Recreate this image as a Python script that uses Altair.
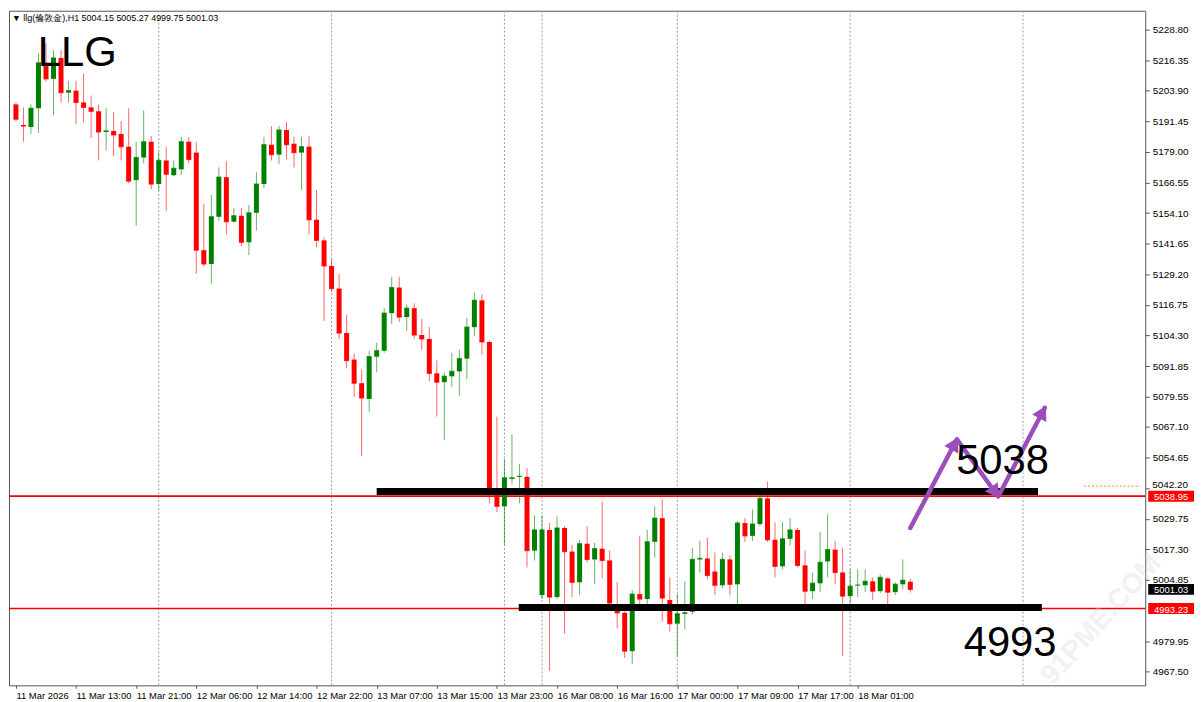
import math
import altair as alt
import pandas as pd

# ---------------- data ----------------
opens = [5198.3, 5189.9, 5189.1, 5196.7, 5215.2, 5208.7, 5217.2, 5203.1, 5203.9, 5199.1,
         5197.1, 5195.5, 5187.1, 5187.5, 5186.3, 5181.1, 5167.5, 5176.7, 5183.1, 5165.9,
         5175.5, 5169.5, 5171.9, 5183.1, 5178.7, 5139.0, 5133.4, 5152.6, 5168.7, 5150.6,
         5153.0, 5142.2, 5154.2, 5165.9, 5181.9, 5177.9, 5187.9, 5182.3, 5178.7, 5181.1,
         5151.4, 5143.0, 5132.6, 5123.4, 5105.3, 5094.5, 5084.9, 5078.5, 5095.7, 5098.1,
         5113.4, 5123.8, 5111.8, 5115.4, 5104.5, 5102.9, 5088.9, 5085.3, 5087.7, 5089.7,
         5094.9, 5107.7, 5118.6, 5101.7, 5040.8, 5034.8, 5046.0, 5046.8, 5046.8, 5016.8,
         4998.7, 5025.2, 4997.9, 5026.0, 5016.4, 5003.9, 5019.6, 5013.2, 5017.6, 5012.8,
         4995.1, 4991.5, 4975.9, 4999.1, 4997.1, 5020.4, 5030.0, 4996.7, 4987.1, 4991.1,
         4991.9, 5013.2, 5013.6, 5008.3, 5002.7, 5013.2, 5003.1, 5028.0, 5022.8, 5027.6,
         5038.0, 5021.2, 5010.4, 5021.6, 5025.2, 5010.8, 5000.3, 5003.5, 5012.4, 5017.2,
         5007.9, 4998.3, 5002.7, 5002.7, 5004.3, 5000.3, 5005.5, 4999.9, 5003.1, 5004.15]

highs = [5199.1, 5197.1, 5198.3, 5219.2, 5223.2, 5220.4, 5220.4, 5207.9, 5207.9, 5210.8,
         5201.9, 5198.3, 5196.7, 5195.1, 5191.5, 5196.7, 5183.1, 5195.9, 5185.5, 5179.1,
         5181.1, 5175.5, 5185.1, 5185.1, 5183.1, 5157.8, 5161.5, 5172.7, 5175.1, 5156.2,
         5156.2, 5157.4, 5170.7, 5185.1, 5189.5, 5189.5, 5191.1, 5185.1, 5185.1, 5185.5,
         5163.5, 5144.2, 5135.4, 5129.4, 5112.6, 5096.9, 5090.5, 5098.1, 5101.3, 5115.4,
         5128.2, 5128.2, 5117.0, 5117.4, 5111.0, 5107.7, 5094.1, 5089.3, 5097.3, 5098.5,
         5111.4, 5121.8, 5121.0, 5102.3, 5071.3, 5054.0, 5064.1, 5052.0, 5050.4, 5031.2,
         5031.2, 5028.0, 5030.8, 5026.8, 5019.2, 5021.2, 5026.8, 5020.0, 5036.8, 5016.8,
         5003.9, 4993.9, 5000.7, 5022.8, 5025.2, 5034.8, 5037.6, 5005.9, 4999.1, 5004.3,
         5018.0, 5020.8, 5022.0, 5016.0, 5016.0, 5014.8, 5028.8, 5030.0, 5033.6, 5040.0,
         5044.8, 5028.4, 5028.4, 5030.0, 5026.0, 5016.8, 5007.9, 5024.4, 5031.6, 5020.8,
         5018.0, 5009.2, 5009.2, 5009.2, 5005.9, 5007.1, 5005.9, 5003.9, 5013.2, 5005.27]

lows = [5191.5, 5183.1, 5186.3, 5186.7, 5207.5, 5193.9, 5199.1, 5199.1, 5190.3, 5191.1,
        5184.7, 5175.5, 5179.5, 5177.1, 5175.5, 5166.3, 5149.0, 5174.3, 5163.9, 5163.1,
        5155.0, 5169.1, 5169.5, 5174.3, 5129.4, 5132.2, 5125.4, 5151.0, 5145.4, 5150.2,
        5140.6, 5137.0, 5147.0, 5164.3, 5175.5, 5173.9, 5175.9, 5172.7, 5163.5, 5145.4,
        5140.2, 5110.2, 5122.2, 5102.9, 5090.9, 5079.3, 5055.2, 5073.3, 5089.3, 5097.3,
        5109.0, 5109.8, 5106.1, 5102.9, 5098.5, 5085.7, 5071.3, 5061.7, 5083.3, 5079.7,
        5086.5, 5104.1, 5096.5, 5036.0, 5032.4, 5019.2, 5044.0, 5036.0, 5010.0, 5012.8,
        4997.1, 4967.9, 4997.1, 4983.1, 4997.9, 4998.7, 5012.0, 5003.1, 5005.5, 4994.7,
        4985.1, 4973.1, 4970.7, 4995.1, 4994.7, 5014.0, 4987.9, 4983.9, 4973.9, 4984.7,
        4990.7, 5007.9, 5005.1, 4998.7, 5001.5, 4998.7, 4995.1, 5020.4, 5020.8, 5026.8,
        5020.4, 5005.9, 5009.2, 5018.8, 5010.0, 4995.1, 4997.1, 4999.9, 5005.9, 5003.1,
        4973.9, 4995.1, 4997.9, 4999.9, 4996.7, 4999.5, 4994.7, 4998.7, 5001.1, 4999.75]

closes = [5192.3, 5189.5, 5196.7, 5215.2, 5208.7, 5217.2, 5203.1, 5203.9, 5199.1, 5197.1,
          5195.5, 5187.1, 5187.5, 5185.9, 5181.1, 5167.1, 5176.7, 5183.1, 5165.9, 5175.5,
          5169.9, 5172.3, 5183.1, 5175.9, 5139.0, 5133.4, 5152.6, 5168.7, 5150.6, 5153.0,
          5142.2, 5154.2, 5165.9, 5181.9, 5177.9, 5187.9, 5181.9, 5178.7, 5181.1, 5151.4,
          5143.0, 5132.6, 5123.4, 5105.3, 5094.1, 5084.9, 5078.9, 5095.7, 5098.1, 5113.4,
          5123.8, 5111.8, 5115.4, 5104.5, 5102.9, 5088.9, 5085.3, 5087.7, 5089.7, 5094.9,
          5107.7, 5118.6, 5101.7, 5040.8, 5034.8, 5046.4, 5046.4, 5047.0, 5016.8, 5025.2,
          5025.2, 4997.9, 5026.0, 5016.4, 5003.9, 5019.6, 5013.2, 5017.6, 5012.8, 4995.5,
          4991.5, 4975.9, 4999.1, 4997.1, 5020.4, 5030.0, 4997.5, 4987.1, 4991.1, 4991.5,
          5013.2, 5013.6, 5006.7, 5002.7, 5013.2, 5003.1, 5028.0, 5022.8, 5027.6, 5038.0,
          5021.2, 5010.4, 5021.6, 5025.2, 5010.8, 5000.3, 5003.5, 5012.0, 5017.2, 5007.9,
          4998.3, 5002.3, 5002.8, 5004.3, 5000.3, 5005.9, 4999.9, 5003.1, 5004.7, 5001.03]

x_labels = ["11 Mar 2026", "11 Mar 13:00", "11 Mar 21:00", "12 Mar 06:00", "12 Mar 14:00",
            "12 Mar 22:00", "13 Mar 07:00", "13 Mar 15:00", "13 Mar 23:00", "16 Mar 08:00",
            "16 Mar 16:00", "17 Mar 00:00", "17 Mar 09:00", "17 Mar 17:00", "18 Mar 01:00"]
y_ticks = [5228.80, 5216.35, 5203.90, 5191.45, 5179.00, 5166.55, 5154.10, 5141.65, 5129.20,
           5116.75, 5104.30, 5091.85, 5079.55, 5067.10, 5054.65, 5042.20, 5029.75, 5017.30,
           5004.85, 4979.95, 4967.50]
# tick label that sits right above a price box (drawn separately, nudged up)
crowded_tick = [5042.20]

level_prices = [5038.95, 4993.23]
level_labels = ["5038.95", "4993.23"]
last_price = [5001.03]
last_label = ["5001.03"]
ask_price = [5043.0]
ask_from = [143.1]

zone_start = [49.0, 67.9]
zone_end = [137.0, 137.5]
zone_price = [5040.8, 4993.7]

grid_bars = [20, 43, 66, 71, 89, 112, 135]

arrow_bar = [120.0, 126.2, 131.7, 137.9]
arrow_price = [5026.0, 5062.1, 5038.8, 5074.9]

note_text = ["5038", "4993"]
note_bar = [126.1, 127.1]
note_price = [5048.0, 4973.9]

header = "\u25BC llg(倫敦金),H1  5004.15 5005.27 4999.75 5001.03"
title_big = "LLG"

# ---------------- layout ----------------
W, H = 1142, 678
XMIN, XMAX = 0.74, 150.6
YMIN, YMAX = 4962.0, 5236.4
FONT = "Liberation Sans"

xs = alt.Scale(domain=[XMIN, XMAX], nice=False, zero=False)
ys = alt.Scale(domain=[YMIN, YMAX], nice=False, zero=False)

label_expr = "[" + ",".join("'%s'" % s for s in x_labels) + "][round((datum.value - 1) / 8)]"
x_axis = alt.Axis(values=[1 + 8 * k for k in range(len(x_labels))], labelExpr=label_expr,
                  labelAlign="left", labelPadding=2, tickSize=3, tickColor="#555",
                  grid=False, domain=False, labelFont=FONT, labelFontSize=9.5,
                  labelColor="#000", labelOverlap=False, title=None, labelFlush=False)
hide = " || ".join("abs(datum.value - %s) < 0.001" % v for v in crowded_tick)
y_axis = alt.Axis(values=y_ticks, orient="right", tickSize=4, tickColor="#555",
                  labelExpr="(%s) ? '' : format(datum.value, '.2f')" % hide,
                  grid=False, domain=False, labelFont=FONT, labelFontSize=10,
                  labelColor="#000", labelPadding=3, title=None, labelOverlap=False,
                  labelFlush=False)


def X(field):
    return alt.X(field, type="quantitative", scale=xs, axis=x_axis)


def Y(field):
    return alt.Y(field, type="quantitative", scale=ys, axis=y_axis)


bars = list(range(1, len(opens) + 1))
df = pd.DataFrame({"bar": bars, "open": opens, "high": highs, "low": lows, "close": closes})
df["dir"] = ["up" if c >= o else "down" for o, c in zip(opens, closes)]

col = alt.Color("dir:N", scale=alt.Scale(domain=["up", "down"], range=["#008000", "#ff0000"]),
                legend=None)

base = alt.Chart(df)

grid_df = pd.DataFrame({"bar": grid_bars})
grid = alt.Chart(grid_df).mark_rule(color="#9a9a9a", strokeDash=[2, 2], strokeWidth=1).encode(
    x=X("bar"))

lev_df = pd.DataFrame({"price": level_prices, "label": level_labels})
levels = alt.Chart(lev_df).mark_rule(color="#ff0000", strokeWidth=1.6).encode(y=Y("price"))

ask_df = pd.DataFrame({"x1": ask_from, "x2": [XMAX], "price": ask_price})
ask = alt.Chart(ask_df).mark_rule(color="#ff8c00", strokeDash=[2, 2], strokeWidth=1).encode(
    x=X("x1"), x2="x2:Q", y=Y("price"))

wicks = base.mark_rule(strokeWidth=1, opacity=0.6).encode(
    x=X("bar"), y=Y("low"), y2="high:Q", color=col)

bodies = base.mark_bar(size=5).encode(x=X("bar"), y=Y("open"), y2="close:Q", color=col)

ticks = base.mark_tick(orient="horizontal", size=5, thickness=1.3).encode(
    x=X("bar"), y=Y("close"), color=col)

zone_df = pd.DataFrame({"x1": zone_start, "x2": zone_end, "price": zone_price})
zones = alt.Chart(zone_df).mark_rule(color="#000000", strokeWidth=7, strokeCap="butt").encode(
    x=X("x1"), x2="x2:Q", y=Y("price"))

arr_df = pd.DataFrame({"bar": arrow_bar, "price": arrow_price,
                       "order": list(range(len(arrow_bar)))})
arrow_line = alt.Chart(arr_df).mark_line(color="#9b4dba", strokeWidth=4.5, strokeCap="round",
                                         strokeJoin="round").encode(
    x=X("bar"), y=Y("price"), order="order:Q")

ppb = W / (XMAX - XMIN)
ppp = H / (YMAX - YMIN)
heads = []
for i in range(1, len(arrow_bar)):
    dx = (arrow_bar[i] - arrow_bar[i - 1]) * ppb
    dy = (arrow_price[i] - arrow_price[i - 1]) * ppp
    L = math.hypot(dx, dy)
    ang = math.degrees(math.atan2(dx, dy)) % 360
    back = 5.0
    heads.append({"bar": arrow_bar[i] - back * dx / L / ppb,
                  "price": arrow_price[i] - back * dy / L / ppp,
                  "ang": ang})
head_df = pd.DataFrame(heads)
arrow_heads = alt.Chart(head_df).mark_point(shape="triangle-up", filled=True, size=260,
                                            color="#9b4dba", opacity=1).encode(
    x=X("bar"), y=Y("price"), angle=alt.Angle("ang:Q", scale=None))

note_df = pd.DataFrame({"text": note_text, "bar": note_bar, "price": note_price})
notes = alt.Chart(note_df).mark_text(font=FONT, fontSize=42, align="left", baseline="alphabetic",
                                     color="#000").encode(
    x=X("bar"), y=Y("price"), text="text:N")

box_shape = "M-1,-0.24L1,-0.24L1,0.24L-1,0.24Z"
lev_boxes = alt.Chart(lev_df).mark_point(shape=box_shape, filled=True, size=2116, opacity=1,
                                         color="#ff0000").encode(
    x=alt.value(W + 26), y=Y("price"))
lev_text = alt.Chart(lev_df).mark_text(font=FONT, fontSize=9.5, align="center",
                                       baseline="middle", color="#ffffff", dy=1).encode(
    x=alt.value(W + 26), y=Y("price"), text="label:N")
last_df = pd.DataFrame({"price": last_price, "label": last_label})
last_box = alt.Chart(last_df).mark_point(shape=box_shape, filled=True, size=2116, opacity=1,
                                         color="#000000").encode(
    x=alt.value(W + 26), y=Y("price"))
last_text = alt.Chart(last_df).mark_text(font=FONT, fontSize=9.5, align="center",
                                         baseline="middle", color="#ffffff", dy=1).encode(
    x=alt.value(W + 26), y=Y("price"), text="label:N")

crowd_df = pd.DataFrame({"price": crowded_tick,
                         "label": ["%.2f" % v for v in crowded_tick]})
crowd_text = alt.Chart(crowd_df).mark_text(font=FONT, fontSize=10, align="left",
                                           baseline="middle", color="#000", dy=-3).encode(
    x=alt.value(W + 7), y=Y("price"), text="label:N")

head_df2 = pd.DataFrame({"t": [header]})
head_text = alt.Chart(head_df2).mark_text(font=FONT, fontSize=9, align="left", baseline="middle",
                                          color="#000").encode(
    x=alt.value(3), y=alt.value(7), text="t:N")
big_df = pd.DataFrame({"t": [title_big]})
big_text = alt.Chart(big_df).mark_text(font=FONT, fontSize=42, align="left",
                                       baseline="alphabetic", color="#000").encode(
    x=alt.value(29), y=alt.value(56), text="t:N")

wm_df = pd.DataFrame({"t": ["91PME.COM"]})
watermark = alt.Chart(wm_df).mark_text(font=FONT, fontSize=28, fontWeight="bold", angle=312,
                                       color="#d8d8d8", opacity=0.35, align="center",
                                       baseline="middle").encode(
    x=alt.value(1098), y=alt.value(612), text="t:N")

chart = alt.layer(
    grid, levels, ask, watermark, wicks, bodies, ticks, zones, arrow_line, arrow_heads,
    notes, lev_boxes, lev_text, last_box, last_text, crowd_text, head_text, big_text
).properties(
    width=W, height=H, padding={"left": 0, "top": 0, "right": 0, "bottom": 0},
    background="#ffffff"
).configure_view(stroke="#555555", strokeWidth=1)

chart.save("out.html", embed_options={"renderer": "svg", "actions": False})
